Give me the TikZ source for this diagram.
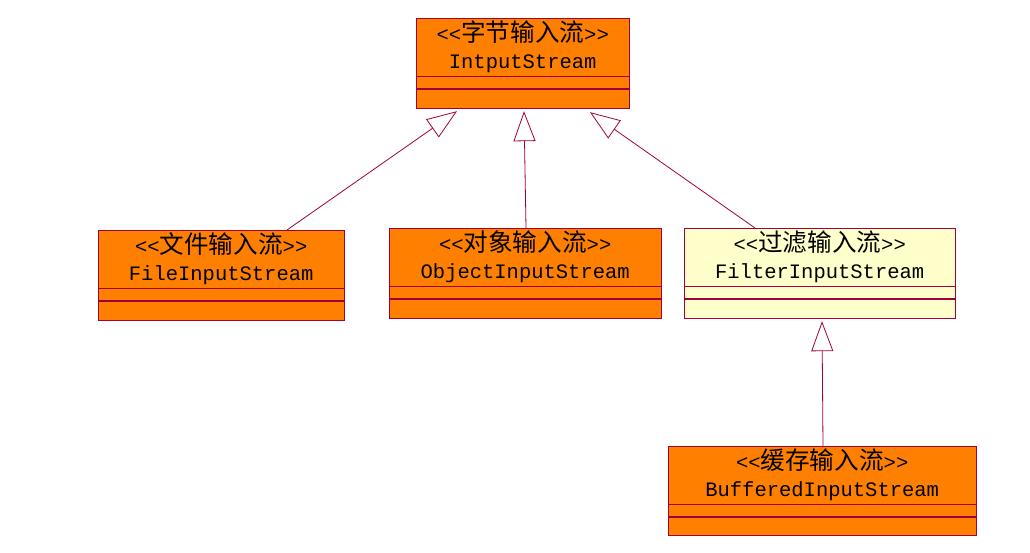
\documentclass[tikz,border=0pt]{standalone}
\usepackage{fontspec}
\newfontfamily\umlfont{Liberation Mono}
\newfontfamily\cjk[Scale=1.2]{Noto Sans CJK SC}
\usetikzlibrary{arrows.meta, positioning}
\definecolor{umlline}{RGB}{160,0,60}
\definecolor{umlorange}{RGB}{255,128,0}
\definecolor{umlyellow}{RGB}{255,255,204}
\tikzset{%
	class head/.style={
		draw=umlline,
		fill=umlorange,
		anchor=north west,
		align=center,
		inner sep=0pt,
		minimum height=58pt,
		font=\umlfont\fontsize{20.5}{27}\selectfont,
		execute at begin node=\rule{0pt}{27pt}
	},
	class part/.style={
		draw=umlline,
		fill=umlorange,
		inner sep=0pt
	},
	inherits/.style={
		draw=umlline,
		line width=0.8pt,
		-{Triangle[open, length=30pt, width=22pt]}
	},
}
\begin{document}
\begin{tikzpicture}[x=1pt, y=-1pt]
			\useasboundingbox (0,0) rectangle (1030,553);
			% Base class at the top
			\node[class head, minimum width=213pt] (stream) at (416,18) {<<{\cjk 字节输入流}>>\\IntputStream};
			\node[class part, minimum width=213pt, minimum height=12pt, below=0pt of stream] (stream-a) {};
			\node[class part, minimum width=213pt, minimum height=19pt, below=0pt of stream-a] (stream-b) {};
			
			% Second row of classes
			\node[class head, minimum width=246pt] (file) at (98,230) {<<{\cjk 文件输入流}>>\\FileInputStream};
			\node[class part, minimum width=246pt, minimum height=12pt, below=0pt of file] (file-a) {};
			\node[class part, minimum width=246pt, minimum height=19pt, below=0pt of file-a] (file-b) {};
			
			\node[class head, minimum width=272pt] (object) at (389,228) {<<{\cjk 对象输入流}>>\\ObjectInputStream};
			\node[class part, minimum width=272pt, minimum height=12pt, below=0pt of object] (object-a) {};
			\node[class part, minimum width=272pt, minimum height=19pt, below=0pt of object-a] (object-b) {};
			
			\node[class head, fill=umlyellow, minimum width=271pt] (filter) at (684,228) {<<{\cjk 过滤输入流}>>\\FilterInputStream};
			\node[class part, fill=umlyellow, minimum width=271pt, minimum height=12pt, below=0pt of filter] (filter-a) {};
			\node[class part, fill=umlyellow, minimum width=271pt, minimum height=19pt, below=0pt of filter-a] (filter-b) {};
			
			% Subclass of the filter stream
			\node[class head, minimum width=308pt] (buffered) at (668,446) {<<{\cjk 缓存输入流}>>\\BufferedInputStream};
			\node[class part, minimum width=308pt, minimum height=12pt, below=0pt of buffered] (buffered-a) {};
			\node[class part, minimum width=308pt, minimum height=18pt, below=0pt of buffered-a] (buffered-b) {};
			
			% Generalisation arrows
			\draw[inherits] ([xshift=189pt]file.north west) -- ([xshift=41pt,yshift=-3pt]stream-b.south west);
			\draw[inherits] ([xshift=137pt]object.north west) -- ([xshift=108pt,yshift=-3pt]stream-b.south west);
			\draw[inherits] ([xshift=71pt]filter.north west) -- ([xshift=174pt,yshift=-4pt]stream-b.south west);
			\draw[inherits] ([xshift=155pt]buffered.north west) -- ([xshift=138pt,yshift=-3pt]filter-b.south west);
		\end{tikzpicture}
\end{document}
